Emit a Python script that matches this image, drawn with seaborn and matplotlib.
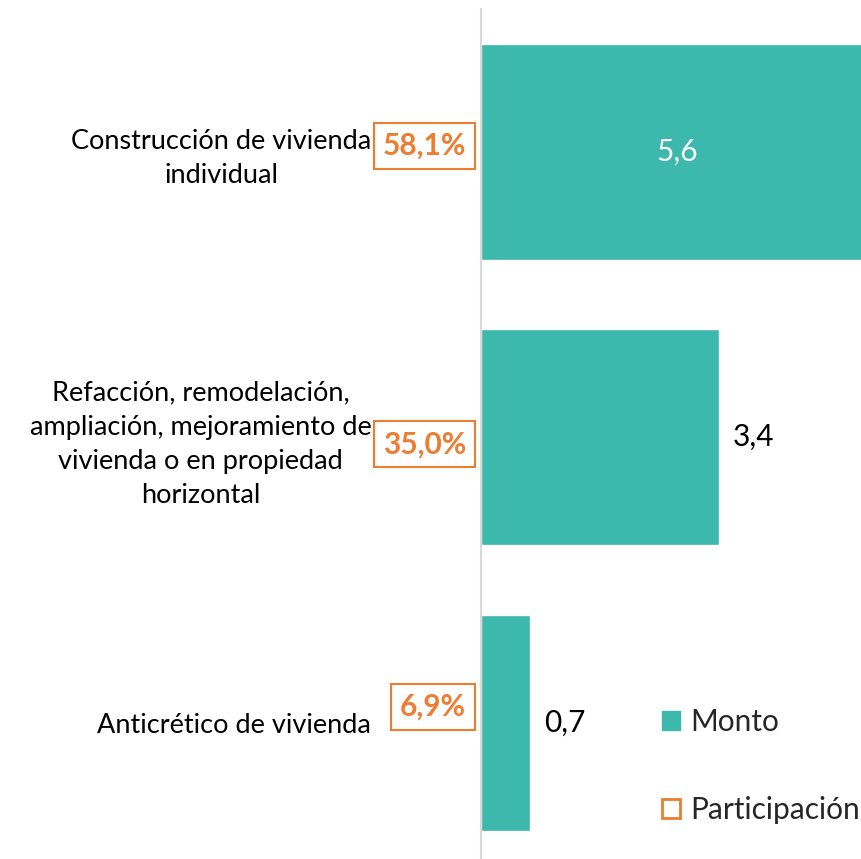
import pandas as pd
import matplotlib.pyplot as plt
import seaborn as sns
from matplotlib.patches import Patch

# values
categorias = ["Construcción de vivienda\nindividual",
              "Refacción, remodelación,\nampliación, mejoramiento de\nvivienda o en propiedad\nhorizontal",
              "Anticrético de vivienda"]
monto = [5.6, 3.4, 0.7]
monto_txt = ["5,6", "3,4", "0,7"]
participacion = ["58,1%", "35,0%", "6,9%"]

teal = "#3cb8ac"
orange = "#ed7d31"

sns.set_theme(style="white")
plt.rcParams["font.family"] = ["Lato", "DejaVu Sans"]

df = pd.DataFrame({"categoria": categorias, "monto": monto})

fig = plt.figure(figsize=(8.61, 8.59), dpi=100)
ax = fig.add_axes([481 / 861, 0, 1 - 481 / 861, 1 - 9 / 859])

sns.barplot(data=df, x="monto", y="categoria", orient="h", color=teal,
            saturation=1, width=0.757, ax=ax)

ax.set_xlim(0, 380 / 70)
ax.set_ylim(2.478, -0.5)
ax.set_xlabel("")
ax.set_ylabel("")
ax.set_xticks([])

for s in ["top", "right", "bottom"]:
    ax.spines[s].set_visible(False)
ax.spines["left"].set_color("#d9d9d9")
ax.spines["left"].set_linewidth(1.5)

ax.tick_params(axis="y", length=0, pad=79)
for lab in ax.get_yticklabels():
    lab.set_multialignment("center")
    lab.set_fontsize(19.5)
    lab.set_color("black")
    lab.set_linespacing(1.45)

# value labels: inside (white) for the long bar, outside for the rest
for i, (v, t) in enumerate(zip(monto, monto_txt)):
    if v > 4:
        ax.text(v / 2, i, t, ha="center", va="center", color="white", fontsize=21.5)
    else:
        ax.annotate(t, xy=(v, i), xytext=(14, 0), textcoords="offset pixels",
                    ha="left", va="center", color="black", fontsize=21.5)

# participation boxes next to the axis
offs = [6, -7, 16]
for i, (p, dy) in enumerate(zip(participacion, offs)):
    ax.annotate(p, xy=(0, i), xycoords=("axes fraction", "data"),
                xytext=(-15, dy), textcoords="offset pixels",
                ha="right", va="center", color=orange, fontsize=21.5,
                fontweight="bold",
                bbox=dict(boxstyle="square,pad=0.3", fc="white",
                          ec=orange, lw=1.5))

handles = [Patch(facecolor=teal, edgecolor=teal, label="Monto"),
           Patch(facecolor="white", edgecolor=orange, linewidth=2,
                 label="Participación")]
fig.legend(handles=handles, loc="upper left", bbox_to_anchor=(662 / 861, 1 - 708 / 859),
           frameon=False, fontsize=21.5, handlelength=0.6, handleheight=0.6,
           handletextpad=0.35, labelspacing=2.0, borderpad=0, borderaxespad=0)

fig.savefig("out.png", dpi=100)
